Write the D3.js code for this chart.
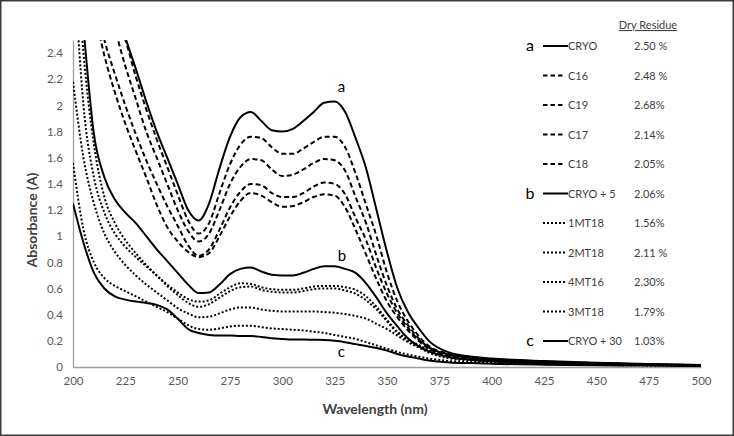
<!DOCTYPE html>
<html><head><meta charset="utf-8">
<script src="https://cdn.jsdelivr.net/npm/d3@7"></script>
<style>body{margin:0;background:#fff}svg{display:block}</style>
</head><body>
<svg id="chart" width="734" height="436"></svg>
<script>
const wavelengths = [200,205,210,215,220,225,230,235,240,245,250,255,260,265,270,275,280,285,290,295,300,305,310,315,320,325,330,335,340,345,350,355,360,365,370,380,390,400,425,450,475,500];
const cryo   = [4.6,4.1,3.6,3.15,2.8,2.52,2.28,2.03,1.80,1.60,1.40,1.20,1.12,1.25,1.52,1.76,1.91,1.95,1.88,1.81,1.80,1.82,1.88,1.95,2.02,2.03,1.95,1.75,1.52,1.20,0.88,0.60,0.42,0.30,0.20,0.11,0.08,0.065,0.045,0.032,0.022,0.015];
const c16    = [4.1,3.6,3.15,2.8,2.58,2.30,2.05,1.80,1.60,1.40,1.20,1.04,0.96,1.02,1.20,1.40,1.53,1.59,1.58,1.51,1.46,1.47,1.51,1.56,1.59,1.58,1.50,1.30,1.10,0.85,0.62,0.44,0.32,0.22,0.15,0.095,0.07,0.057,0.04,0.029,0.02,0.014];
const c19    = [4.3,3.8,3.35,2.95,2.7,2.5,2.22,1.97,1.74,1.53,1.32,1.12,1.02,1.10,1.33,1.55,1.70,1.76,1.75,1.68,1.63,1.63,1.67,1.72,1.76,1.76,1.68,1.48,1.24,1.00,0.72,0.50,0.35,0.24,0.16,0.10,0.075,0.06,0.042,0.03,0.021,0.015];
const c17    = [3.9,3.3,2.85,2.5,2.24,2.0,1.78,1.58,1.40,1.23,1.08,0.93,0.85,0.90,1.05,1.22,1.34,1.40,1.39,1.33,1.30,1.30,1.33,1.38,1.41,1.40,1.32,1.14,0.97,0.75,0.56,0.41,0.30,0.21,0.15,0.09,0.068,0.055,0.038,0.028,0.02,0.014];
const c18    = [3.8,3.2,2.75,2.38,2.10,1.86,1.65,1.45,1.24,1.07,0.96,0.88,0.84,0.87,1.00,1.15,1.27,1.33,1.31,1.26,1.225,1.23,1.26,1.30,1.32,1.31,1.22,1.05,0.86,0.67,0.50,0.38,0.28,0.20,0.14,0.085,0.065,0.052,0.037,0.027,0.019,0.013];
const cryo5  = [3.6,2.6,1.78,1.45,1.28,1.18,1.10,1.00,0.90,0.81,0.72,0.63,0.565,0.57,0.63,0.71,0.75,0.76,0.73,0.705,0.70,0.70,0.72,0.75,0.77,0.77,0.75,0.72,0.64,0.53,0.41,0.31,0.22,0.16,0.12,0.075,0.055,0.045,0.03,0.022,0.016,0.012];
const mt1_18 = [3.2,2.0,1.45,1.18,1.02,0.92,0.84,0.77,0.70,0.63,0.57,0.52,0.50,0.51,0.56,0.61,0.64,0.635,0.61,0.595,0.59,0.59,0.60,0.615,0.62,0.62,0.61,0.59,0.54,0.46,0.36,0.27,0.21,0.17,0.13,0.08,0.058,0.046,0.03,0.022,0.016,0.012];
const mt2_18 = [3.5,2.4,1.7,1.3,1.10,0.97,0.87,0.78,0.70,0.62,0.55,0.49,0.46,0.48,0.53,0.58,0.61,0.615,0.59,0.575,0.57,0.57,0.58,0.595,0.60,0.60,0.585,0.56,0.51,0.44,0.35,0.26,0.20,0.16,0.12,0.075,0.055,0.044,0.029,0.021,0.015,0.011];
const mt4_16 = [2.18,1.6,1.25,1.02,0.88,0.78,0.70,0.63,0.57,0.51,0.45,0.41,0.38,0.385,0.41,0.44,0.455,0.455,0.44,0.43,0.425,0.425,0.425,0.425,0.42,0.415,0.405,0.39,0.37,0.33,0.29,0.24,0.19,0.15,0.11,0.065,0.048,0.038,0.026,0.019,0.014,0.01];
const mt3_18 = [1.56,1.05,0.80,0.68,0.62,0.58,0.54,0.50,0.46,0.42,0.37,0.32,0.29,0.285,0.295,0.31,0.316,0.315,0.305,0.295,0.29,0.285,0.28,0.27,0.26,0.245,0.23,0.215,0.19,0.165,0.14,0.115,0.095,0.08,0.065,0.045,0.035,0.03,0.022,0.016,0.012,0.009];
const cryo30 = [1.25,0.95,0.72,0.60,0.54,0.515,0.50,0.49,0.475,0.44,0.37,0.29,0.26,0.245,0.24,0.24,0.237,0.237,0.23,0.22,0.215,0.21,0.21,0.208,0.206,0.20,0.19,0.175,0.16,0.145,0.125,0.10,0.08,0.065,0.05,0.035,0.03,0.025,0.018,0.014,0.011,0.008];

const seriesNames = ["CRYO","C16","C19","C17","C18","CRYO + 5","1MT18","2MT18","4MT16","3MT18","CRYO + 30"];
const dryResidue  = ["2.50 %","2.48 %","2.68%","2.14%","2.05%","2.06%","1.56%","2.11 %","2.30%","1.79%","1.03%"];
const groupLetters = ["a","","","","","b","","","","","c"];
const lineStyles  = ["solid","dashed","dashed","dashed","dashed","solid","dotted","dotted","dotted","dotted","solid"];
const seriesValues = [cryo,c16,c19,c17,c18,cryo5,mt1_18,mt2_18,mt4_16,mt3_18,cryo30];
const xTicks = [200,225,250,275,300,325,350,375,400,425,450,475,500];
const yTicks = [0,0.2,0.4,0.6,0.8,1,1.2,1.4,1.6,1.8,2,2.2,2.4];
const curveLabels = [{t:"a", w:326.5, v:2.10},{t:"b", w:326.5, v:0.81},{t:"c", w:326.5, v:0.076}];

const svg = d3.select("#chart");
const W = 734, H = 436;
const m = {left:73, right:701, top:40, bottom:367};
const x = d3.scaleLinear().domain([200,500]).range([m.left,m.right]);
const y = d3.scaleLinear().domain([0,2.5]).range([m.bottom,m.top]);
const font = "Lato, 'Open Sans', sans-serif";

svg.append("rect").attr("x",0.75).attr("y",0.75).attr("width",W-1.5).attr("height",H-1.5)
  .attr("fill","#fff").attr("stroke","#3a3a3a").attr("stroke-width",1.5);

svg.append("defs").append("clipPath").attr("id","clip").append("rect")
  .attr("x",m.left).attr("y",m.top).attr("width",m.right-m.left+2).attr("height",m.bottom-m.top);

// axes
const xAxis = svg.append("g").attr("transform",`translate(0,${m.bottom})`)
  .call(d3.axisBottom(x).tickValues(xTicks).tickSize(0).tickPadding(10));
const yAxis = svg.append("g").attr("transform",`translate(${m.left},0)`)
  .call(d3.axisLeft(y).tickValues(yTicks).tickSize(0).tickPadding(10).tickFormat(d3.format("")));
[xAxis,yAxis].forEach(g=>{
  g.select(".domain").attr("stroke","#a0a0a0").attr("stroke-width",1.3);
  g.selectAll("text").attr("fill","#595959").attr("font-family",font).attr("font-size",11.5);
});

// lines
const dashFor = {solid:null, dashed:"5,3", dotted:"2,2"};
const line = d3.line().x((d,i)=>x(wavelengths[i])).y(d=>y(d)).curve(d3.curveMonotoneX);
const plot = svg.append("g").attr("clip-path","url(#clip)");
seriesValues.forEach((vals,i)=>{
  plot.append("path").datum(vals).attr("d",line).attr("fill","none")
    .attr("stroke","#000").attr("stroke-width",2)
    .attr("stroke-dasharray",dashFor[lineStyles[i]]);
});

// curve labels
curveLabels.forEach(c=>{
  svg.append("text").attr("x",x(c.w)).attr("y",y(c.v)).attr("font-family",font)
    .attr("font-size",15).attr("fill","#000").text(c.t);
});

// axis titles
svg.append("text").attr("x",375).attr("y",414).attr("text-anchor","middle")
  .attr("font-family",font).attr("font-weight","bold").attr("font-size",14).attr("fill","#404040")
  .text("Wavelength (nm)");
svg.append("text").attr("transform","translate(37,220) rotate(-90)").attr("text-anchor","middle")
  .attr("font-family",font).attr("font-weight","bold").attr("font-size",14).attr("fill","#404040")
  .text("Absorbance (A)");

// legend
const lg = svg.append("g");
lg.append("text").attr("x",648).attr("y",29).attr("text-anchor","middle").attr("font-family",font)
  .attr("font-size",11).attr("fill","#404040").attr("text-decoration","underline").text("Dry Residue");
seriesNames.forEach((n,i)=>{
  const ry = 46 + i*29.5;
  lg.append("line").attr("x1",543).attr("x2", lineStyles[i]==="solid"?568:565).attr("y1",ry).attr("y2",ry)
    .attr("stroke","#000").attr("stroke-width",2).attr("stroke-dasharray",
      lineStyles[i]==="dashed"?"4.5,3":(lineStyles[i]==="dotted"?"2,2":null));
  lg.append("text").attr("x",568).attr("y",ry+4).attr("font-family",font).attr("font-size",11)
    .attr("fill","#404040").text(n);
  lg.append("text").attr("x",634).attr("y",ry+4).attr("font-family",font).attr("font-size",11)
    .attr("fill","#404040").text(dryResidue[i]);
  if (groupLetters[i]) lg.append("text").attr("x",530).attr("y",ry+5).attr("text-anchor","middle")
    .attr("font-family",font).attr("font-size",16).attr("fill","#000").text(groupLetters[i]);
});
</script>
</body></html>
